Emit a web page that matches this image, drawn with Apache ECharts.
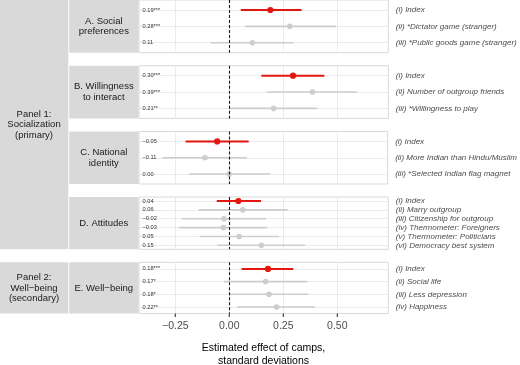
<!DOCTYPE html>
<html><head><meta charset="utf-8">
<script src="https://cdn.jsdelivr.net/npm/echarts@6/dist/echarts.min.js"></script>
<style>html,body{margin:0;padding:0;background:#fff}#c{width:520px;height:365px}</style>
</head><body><div id="c"></div><script>
// ---- data ----
const panelTitles = ['A. Social\npreferences', 'B. Willingness\nto interact', 'C. National\nidentity', 'D. Attitudes', 'E. Well\u2212being'];
const groupTitles = ['Panel 1:\nSocialization\n(primary)', 'Panel 2:\nWell\u2212being\n(secondary)'];
const axisTitle = 'Estimated effect of camps,\nstandard deviations';
const xTicks = [-0.25, 0, 0.25, 0.5];

const outcomesA = ['(i) Index', '(ii) *Dictator game (stranger)', '(iii) *Public goods game (stranger)'];
const estA = [0.19, 0.28, 0.107];
const loA = [0.053, 0.073, -0.086];
const hiA = [0.335, 0.494, 0.298];
const labA = ['0.19***', '0.28***', '0.11'];

const outcomesB = ['(i) Index', '(ii) Number of outgroup friends', '(iii) *Willingness to play'];
const estB = [0.295, 0.385, 0.205];
const loB = [0.148, 0.173, 0.003];
const hiB = [0.44, 0.59, 0.407];
const labB = ['0.30***', '0.39***', '0.21**'];

const outcomesC = ['(i) Index', '(ii) More Indian than Hindu/Muslim', '(iii) *Selected Indian flag magnet'];
const estC = [-0.055, -0.112, 0.0];
const loC = [-0.202, -0.31, -0.185];
const hiC = [0.091, 0.083, 0.19];
const labC = ['\u22120.05', '\u22120.11', '0.00'];

const outcomesD = ['(i) Index', '(ii) Marry outgroup', '(iii) Citizenship for outgroup', '(iv) Thermometer: Foreigners', '(v) Thermometer: Politicians', '(vi) Democracy best system'];
const estD = [0.042, 0.062, -0.025, -0.028, 0.046, 0.148];
const loD = [-0.058, -0.143, -0.22, -0.233, -0.136, -0.055];
const hiD = [0.147, 0.27, 0.17, 0.176, 0.231, 0.35];
const labD = ['0.04', '0.06', '\u22120.02', '\u22120.03', '0.05', '0.15'];

const outcomesE = ['(i) Index', '(ii) Social life', '(iii) Less depression', '(iv) Happiness'];
const estE = [0.179, 0.168, 0.184, 0.219];
const loE = [0.057, -0.024, 0.002, 0.037];
const hiE = [0.296, 0.361, 0.366, 0.397];
const labE = ['0.18***', '0.17*', '0.18*', '0.22**'];

// ---- layout / style ----
const panels = [
  {o: outcomesA, e: estA, lo: loA, hi: hiA, lab: labA},
  {o: outcomesB, e: estB, lo: loB, hi: hiB, lab: labB},
  {o: outcomesC, e: estC, lo: loC, hi: hiC, lab: labC},
  {o: outcomesD, e: estD, lo: loD, hi: hiD, lab: labD},
  {o: outcomesE, e: estE, lo: loE, hi: hiE, lab: labE}
];
const tops = [0, 65.7, 131.5, 197, 262.3];
const heights = [52.7, 52.7, 52.5, 52.3, 51.3];
const pads = [0.61, 0.61, 0.61, 0.45, 0.52];
const GL = 139, GW = 249.3;
const RED = '#e3170f', GRAY = '#cdcdcd', STRIP = '#d9d9d9';
const FONT = 'Liberation Sans, Arial, sans-serif';

const grids = [], xAxes = [], yAxes = [], series = [], graphics = [];
panels.forEach((p, i) => {
  const n = p.o.length;
  const idx = p.o.map((_, j) => j);
  const last = i === panels.length - 1;
  grids.push({left: GL, top: tops[i], width: GW, height: heights[i], show: true, borderColor: '#d9d9d9', borderWidth: 1, backgroundColor: '#fff'});
  xAxes.push({
    gridIndex: i, type: 'value', position: 'bottom', min: -0.418, max: 0.736,
    axisLine: {show: false, onZero: false},
    axisTick: {show: false, customValues: xTicks},
    axisLabel: {show: last, customValues: xTicks, margin: 7, fontSize: 10.5, color: '#4d4d4d', fontFamily: FONT,
      formatter: v => (v < 0 ? '\u2212' : '') + Math.abs(v).toFixed(2)},
    splitLine: {show: true, lineStyle: {color: '#ebebeb', width: 1}}
  });
  yAxes.push({
    gridIndex: i, type: 'value', inverse: true, position: 'left', min: -pads[i], max: n - 1 + pads[i],
    axisLine: {show: false, onZero: false},
    axisTick: {show: false, customValues: idx},
    axisLabel: {inside: true, customValues: idx, margin: 3.5, fontSize: 5.7, color: '#333', fontFamily: FONT,
      formatter: v => p.lab[Math.round(v)]},
    splitLine: {show: true, lineStyle: {color: '#ebebeb', width: 1}}
  });
  yAxes.push({
    gridIndex: i, type: 'value', inverse: true, position: 'right', min: -pads[i], max: n - 1 + pads[i],
    axisLine: {show: false, onZero: false},
    axisTick: {show: false, customValues: idx},
    axisLabel: {customValues: idx, margin: 7.5, fontSize: 8, fontStyle: 'italic', color: '#4d4d4d', fontFamily: FONT,
      formatter: v => p.o[Math.round(v)]},
    splitLine: {show: false}
  });
  series.push({
    type: 'custom', xAxisIndex: i, yAxisIndex: 2 * i,
    data: idx.map(j => [p.lo[j], p.hi[j], j, p.e[j]]),
    encode: {x: [0, 1, 3], y: 2},
    renderItem: (params, api) => {
      const j = api.value(2);
      const a = api.coord([api.value(0), j]);
      const b = api.coord([api.value(1), j]);
      const c = api.coord([api.value(3), j]);
      const red = j === 0;
      const col = red ? RED : GRAY;
      return {type: 'group', children: [
        {type: 'line', shape: {x1: a[0], y1: a[1], x2: b[0], y2: b[1]}, style: {stroke: col, lineWidth: red ? 2 : 1.6}},
        {type: 'circle', shape: {cx: c[0], cy: c[1], r: red ? 3.1 : 2.8}, style: {fill: col}}
      ]};
    },
    markLine: {silent: true, symbol: ['none', 'none'], animation: false, label: {show: false},
      lineStyle: {color: '#1a1a1a', type: [3, 2], width: 1.1}, data: [{xAxis: 0}]}
  });
  if (last) {
    // x-axis tick marks below the bottom panel, placed through the x scale
    series.push({
      type: 'custom', xAxisIndex: i, yAxisIndex: 2 * i, clip: false, silent: true, z: 10,
      data: xTicks.map(v => [v, n - 1 + pads[i]]),
      encode: {x: 0, y: 1},
      renderItem: (params, api) => {
        const c = api.coord([api.value(0), api.value(1)]);
        return {type: 'rect', shape: {x: c[0] - 0.55, y: c[1], width: 1.1, height: 3.5}, style: {fill: '#333333'}};
      }
    });
  }
  // inner strip
  graphics.push({type: 'rect', shape: {x: 69.3, y: tops[i], width: 69.2, height: heights[i]}, style: {fill: STRIP}, z: -1});
  graphics.push({type: 'text', x: 103.8, y: tops[i] + heights[i] / 2,
    style: {text: panelTitles[i], fill: '#1a1a1a', font: '9.5px ' + FONT, align: 'center', verticalAlign: 'middle', lineHeight: 10.5}});
});
// outer strips
const g1Top = tops[0], g1Bot = tops[3] + heights[3];
graphics.push({type: 'rect', shape: {x: 0, y: g1Top, width: 68.3, height: g1Bot - g1Top}, style: {fill: STRIP}, z: -1});
graphics.push({type: 'text', x: 34, y: (g1Top + g1Bot) / 2,
  style: {text: groupTitles[0], fill: '#1a1a1a', font: '9.5px ' + FONT, align: 'center', verticalAlign: 'middle', lineHeight: 10.5}});
graphics.push({type: 'rect', shape: {x: 0, y: tops[4], width: 68.3, height: heights[4]}, style: {fill: STRIP}, z: -1});
graphics.push({type: 'text', x: 34, y: tops[4] + heights[4] / 2,
  style: {text: groupTitles[1], fill: '#1a1a1a', font: '9.5px ' + FONT, align: 'center', verticalAlign: 'middle', lineHeight: 10.5}});
// axis title
graphics.push({type: 'text', x: 263.5, y: 354.5,
  style: {text: axisTitle, fill: '#000', font: '10.5px ' + FONT, align: 'center', verticalAlign: 'middle', lineHeight: 12.5}});

const chart = echarts.init(document.getElementById('c'), null, {renderer: 'canvas'});
chart.setOption({
  animation: false,
  grid: grids, xAxis: xAxes, yAxis: yAxes, series: series,
  graphic: graphics
});
</script></body></html>
